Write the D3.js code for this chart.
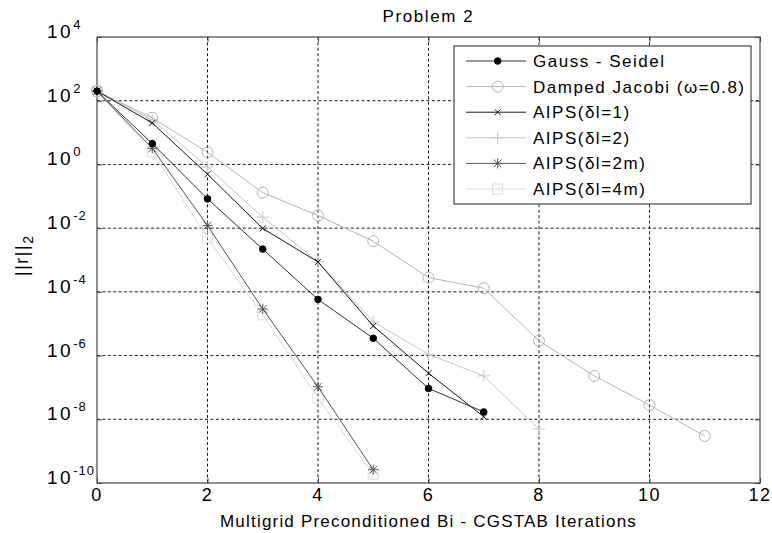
<!DOCTYPE html>
<meta charset="utf-8">
<style>
body { margin: 0; background: #fff; }
svg text { font-family: "Liberation Sans", Arial, sans-serif; fill: #000; }
.grid line { stroke: #1a1a1a; stroke-width: 1; stroke-dasharray: 3,2.4; }
.line { fill: none; stroke-width: 1; }
</style>
<svg width="772" height="533"></svg>
<script src="https://cdnjs.cloudflare.com/ajax/libs/d3/7.8.5/d3.min.js"></script>
<script>

// Data (residual norm vs iteration)
var gaussSeidel  = [200, 4.5, 0.083, 2.2e-3, 5.8e-5, 3.5e-6, 9.3e-8, 1.7e-8];
var dampedJacobi = [200, 29, 2.4, 0.13, 0.025, 3.9e-3, 2.8e-4, 1.3e-4, 2.9e-6, 2.3e-7, 2.8e-8, 3.0e-9];
var aips1  = [200, 20, 0.49, 9.8e-3, 8.7e-4, 8.5e-6, 2.8e-7, 1.2e-8];
var aips2  = [200, 25, 0.83, 0.022, 8.7e-4, 1.15e-5, 1.1e-6, 2.3e-7, 4.9e-9];
var aips2m = [200, 3.2, 0.012, 2.9e-5, 1.05e-7, 2.6e-10];
var aips4m = [200, 2.5, 5.0e-3, 1.9e-5, 4.6e-8, 1.9e-10];

var seriesNames = ["Gauss - Seidel", "Damped Jacobi (\u03c9=0.8)", "AIPS(\u03b4l=1)",
                   "AIPS(\u03b4l=2)", "AIPS(\u03b4l=2m)", "AIPS(\u03b4l=4m)"];
var xTicks = [0, 2, 4, 6, 8, 10, 12];
var yExps = [4, 2, 0, -2, -4, -6, -8, -10];

var series = [
  {name: seriesNames[0], values: gaussSeidel,  color: "#333333", marker: "dot"},
  {name: seriesNames[1], values: dampedJacobi, color: "#b4b4b4", marker: "circle"},
  {name: seriesNames[2], values: aips1,        color: "#1a1a1a", marker: "x"},
  {name: seriesNames[3], values: aips2,        color: "#c6c6c6", marker: "plus"},
  {name: seriesNames[4], values: aips2m,       color: "#555555", marker: "star"},
  {name: seriesNames[5], values: aips4m,       color: "#dcdcdc", marker: "square"}
];

var svg = d3.select("svg"),
    margin = {top: 37, right: 12, bottom: 50, left: 97},
    width = svg.attr("width") - margin.left - margin.right,
    height = svg.attr("height") - margin.top - margin.bottom;

var g = svg.append("g").attr("transform", "translate(" + margin.left + "," + margin.top + ")");

var x = d3.scaleLinear().domain([0, 12]).range([0, width]),
    y = d3.scaleLog().domain([1e-10, 1e4]).range([height, 0]);

// grid
var grid = g.append("g").attr("class", "grid");
grid.selectAll(".gx").data(xTicks.slice(1, -1)).enter().append("line")
    .attr("x1", d => x(d)).attr("x2", d => x(d)).attr("y1", 0).attr("y2", height);
grid.selectAll(".gy").data(yExps.slice(1, -1)).enter().append("line")
    .attr("y1", d => y(Math.pow(10, d))).attr("y2", d => y(Math.pow(10, d))).attr("x1", 0).attr("x2", width);

// axes with inward ticks
var axisStyle = function(sel) {
  sel.select(".domain").remove();
  sel.selectAll("line").attr("stroke", "#444");
  sel.selectAll("text").remove();
};
g.append("g").attr("transform", "translate(0," + height + ")")
    .call(d3.axisBottom(x).tickValues(xTicks).tickSize(-5)).call(axisStyle);
g.append("g").call(d3.axisTop(x).tickValues(xTicks).tickSize(-5)).call(axisStyle);
g.append("g").call(d3.axisLeft(y).tickValues(yExps.map(e => Math.pow(10, e))).tickSize(-5)).call(axisStyle);
g.append("g").attr("transform", "translate(" + width + ",0)")
    .call(d3.axisRight(y).tickValues(yExps.map(e => Math.pow(10, e))).tickSize(-5)).call(axisStyle);

g.append("rect").attr("width", width).attr("height", height)
    .attr("fill", "none").attr("stroke", "#444").attr("stroke-width", 1.2);

// tick labels
g.selectAll(".xl").data(xTicks).enter().append("text")
    .attr("x", d => x(d)).attr("y", height + 18)
    .attr("text-anchor", "middle").style("font-size", "18px").style("letter-spacing", "1.5px")
    .text(d => d);

var yl = g.selectAll(".yl").data(yExps).enter().append("text")
    .attr("x", -50).attr("y", d => y(Math.pow(10, d)) + 1)
    .style("font-size", "19px").style("letter-spacing", "2.5px");
yl.append("tspan").text("10");
yl.append("tspan").attr("dy", -9).style("font-size", "13px").style("letter-spacing", "1px").text(d => d);

// titles
svg.append("text").attr("x", margin.left + width / 2).attr("y", 22)
    .attr("text-anchor", "middle").style("font-size", "17px").style("letter-spacing", "1.6px")
    .text("Problem 2");
svg.append("text").attr("x", margin.left + width / 2).attr("y", 527)
    .attr("text-anchor", "middle").style("font-size", "17px").style("letter-spacing", "1.2px")
    .text("Multigrid Preconditioned Bi - CGSTAB Iterations");
var ylab = svg.append("text").attr("transform", "translate(28,276) rotate(-90)")
    .style("font-size", "18px").style("letter-spacing", "1.5px");
ylab.append("tspan").text("||r||");
ylab.append("tspan").attr("dy", 5).style("font-size", "14px").text("2");

// markers
function drawMarker(sel, type, color) {
  if (type === "dot") {
    sel.append("circle").attr("r", 3.3).attr("fill", "#000").attr("stroke", "#000");
  } else if (type === "circle") {
    sel.append("circle").attr("r", 5.5).attr("fill", "none").attr("stroke", color);
  } else if (type === "x") {
    sel.append("path").attr("d", "M-3,-3L3,3M-3,3L3,-3").attr("stroke", color);
  } else if (type === "plus") {
    sel.append("path").attr("d", "M-6,0L6,0M0,-6L0,6").attr("stroke", color);
  } else if (type === "star") {
    sel.append("path").attr("d", "M-5,0L5,0M0,-5L0,5M-3.8,-3.8L3.8,3.8M-3.8,3.8L3.8,-3.8").attr("stroke", color);
  } else if (type === "square") {
    sel.append("rect").attr("x", -5).attr("y", -5).attr("width", 10).attr("height", 10)
        .attr("fill", "none").attr("stroke", color);
  }
}

var line = d3.line().x((d, i) => x(i)).y(d => y(d));

// draw light series first so dark ones sit on top
var order = [5, 3, 1, 4, 2, 0];
order.forEach(function(k) {
  var s = series[k];
  var sg = g.append("g");
  sg.append("path").attr("class", "line").attr("d", line(s.values)).attr("stroke", s.color);
  sg.selectAll(".m").data(s.values).enter().append("g")
      .attr("transform", (d, i) => "translate(" + x(i) + "," + y(d) + ")")
      .each(function() { drawMarker(d3.select(this), s.marker, s.color); });
});

// legend
var lg = svg.append("g").attr("transform", "translate(454,46)");
lg.append("rect").attr("width", 297).attr("height", 158)
    .attr("fill", "#fff").attr("stroke", "#444").attr("stroke-width", 1.2);
series.forEach(function(s, i) {
  var row = lg.append("g").attr("transform", "translate(0," + (15 + i * 25.6) + ")");
  row.append("line").attr("x1", 12).attr("x2", 72).attr("stroke", s.color);
  var m = row.append("g").attr("transform", "translate(43.7,0)");
  drawMarker(m, s.marker, s.color);
  row.append("text").attr("x", 79).attr("y", 6).style("font-size", "17px").style("letter-spacing", "1.5px")
      .text(s.name);
});

</script>
